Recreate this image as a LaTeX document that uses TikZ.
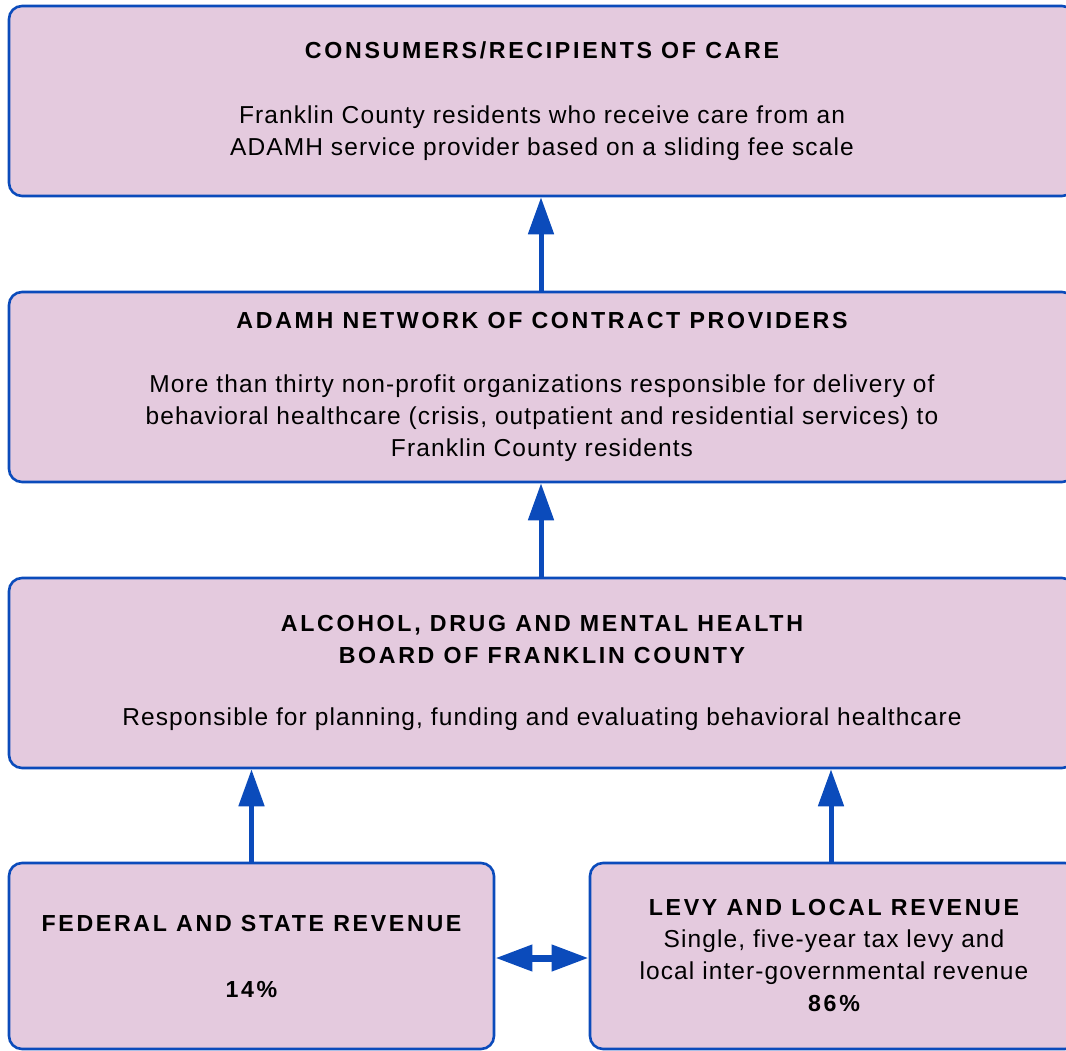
\documentclass[tikz,border=0pt]{standalone}
\usepackage{fontspec}
\setmainfont{Liberation Sans}
\usetikzlibrary{arrows.meta}
\definecolor{boxfill}{HTML}{E4CADE}
\definecolor{boxline}{HTML}{0B4BBB}
\newcommand{\ttl}[1]{{\fontsize{23.2}{32}\selectfont\bfseries\addfontfeatures{LetterSpace=11.5}#1}}
\begin{document}
\begin{tikzpicture}[x=1pt,y=-1pt,
  box/.style={draw=boxline, fill=boxfill, line width=2.6pt, rounded corners=13pt,
    align=center, inner sep=0pt, font=\fontsize{24.5}{32}\selectfont\addfontfeatures{LetterSpace=4.5}, text=black},
  uparrow/.style={draw=boxline, line width=5pt, -{Triangle[length=37pt,width=25pt]}},
  dblarrow/.style={draw=boxline, line width=7pt, {Triangle[length=37pt,width=25pt]}-{Triangle[length=37pt,width=25pt]}}]
\useasboundingbox (0,0) rectangle (1066,1051);
\begin{scope}
\clip (0,0) rectangle (1066,1051);
\node[box, minimum width=1066pt, minimum height=190pt] (cons) at (542,101)
  {\ttl{CONSUMERS/RECIPIENTS OF CARE}\\[33pt]
   Franklin County residents who receive care from an\\
   ADAMH service provider based on a sliding fee scale};
\node[box, minimum width=1066pt, minimum height=190pt] (net) at (542,387)
  {\ttl{ADAMH NETWORK OF CONTRACT PROVIDERS}\\[32pt]
   More than thirty non-profit organizations responsible for delivery of\\
   behavioral healthcare (crisis, outpatient and residential services) to\\
   Franklin County residents};
\node[box, minimum width=1066pt, minimum height=190pt] (board) at (542,673)
  {\ttl{ALCOHOL, DRUG AND MENTAL HEALTH}\\
   \ttl{BOARD OF FRANKLIN COUNTY}\\[30pt]
   Responsible for planning, funding and evaluating behavioral healthcare};
\node[box, minimum width=485pt, minimum height=186pt] (fed) at (251.5,956)
  {\ttl{FEDERAL AND STATE REVENUE}\\[34pt]
   \ttl{14\%}};
\node[box, minimum width=488pt, minimum height=186pt] (levy) at (834,956)
  {\ttl{LEVY AND LOCAL REVENUE}\\
   Single, five-year tax levy and\\
   local inter-governmental revenue\\
   \ttl{86\%}};
\end{scope}
\draw[uparrow] (net.north -| 541,0) -- (cons.south -| 541,0);
\draw[uparrow] (board.north -| 541,0) -- (net.south -| 541,0);
\draw[uparrow] (fed.north) -- (fed.north |- board.south);
\draw[uparrow] (levy.north -| 831,0) -- (board.south -| 831,0);
\draw[dblarrow] (fed.east |- 0,958) -- (levy.west |- 0,958);
\end{tikzpicture}
\end{document}
